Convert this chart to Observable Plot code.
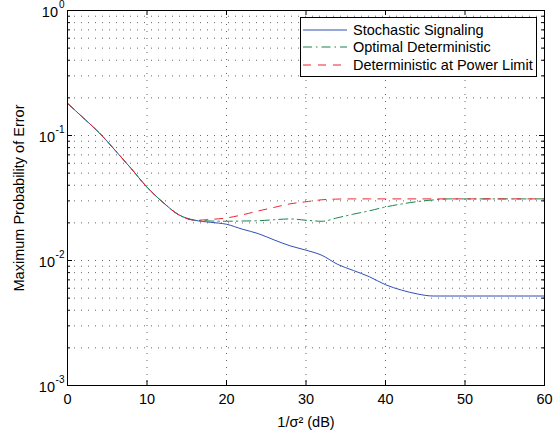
<!DOCTYPE html>
<html><head><meta charset="utf-8">
<script src="https://cdn.jsdelivr.net/npm/d3@7"></script>
<script src="https://cdn.jsdelivr.net/npm/@observablehq/plot@0.6"></script>
<style>
body{margin:0;background:#fff;}
#wrap{position:relative;width:560px;height:436px;font-family:"Liberation Sans",Arial,Helvetica,sans-serif;}
#legend{position:absolute;left:300px;top:17px;width:237px;height:60px;border:1px solid #000;background:#fff;box-sizing:border-box;font-size:14.5px;color:#000;padding-top:3px;}
.row{display:flex;align-items:center;height:17.5px;}
.row svg{margin-left:2px;margin-right:6px;}
</style>
</head><body>
<div id="wrap"><div id="chart"></div><div id="legend"></div></div>
<script>
const xVals      = [0, 2, 4, 6, 8, 10, 12, 14, 16, 18, 20, 22, 24, 26, 28, 30, 32, 34, 36, 38, 40, 42, 44, 46, 48, 50, 55, 60];
const stochastic = [0.181, 0.138, 0.105, 0.076, 0.0545, 0.0386, 0.0292, 0.0232, 0.0210, 0.0202, 0.0195, 0.0178, 0.0164, 0.0146, 0.0131, 0.0121, 0.0110, 0.0093, 0.0083, 0.0074, 0.0064, 0.0058, 0.0054, 0.0052, 0.0052, 0.0052, 0.0052, 0.0052];
const optimal    = [0.181, 0.138, 0.105, 0.076, 0.0545, 0.0386, 0.0292, 0.0232, 0.0210, 0.0207, 0.0206, 0.0207, 0.0208, 0.0212, 0.0215, 0.0210, 0.0206, 0.0220, 0.0235, 0.0250, 0.0268, 0.0283, 0.0296, 0.0305, 0.0311, 0.0311, 0.0311, 0.0311];
const powerLimit = [0.181, 0.138, 0.105, 0.076, 0.0545, 0.0386, 0.0292, 0.0232, 0.0210, 0.0213, 0.0219, 0.0232, 0.0249, 0.0266, 0.0284, 0.0295, 0.0306, 0.0310, 0.0311, 0.0311, 0.0311, 0.0311, 0.0311, 0.0311, 0.0311, 0.0311, 0.0311, 0.0311];
const seriesNames = ["Stochastic Signaling", "Optimal Deterministic", "Deterministic at Power Limit"];
const xTicks = [0, 10, 20, 30, 40, 50, 60];
const yMajor = [0.001, 0.01, 0.1, 1];
const yExp   = ["-3", "-2", "-1", "0"];
const yMinor = [2,3,4,5,6,7,8,9].flatMap(m => [0.001, 0.01, 0.1].map(d => m * d));
const xLabel = "1/σ² (dB)";
const yLabel = "Maximum Probability of Error";

const colors = ["#2f4fb5", "#17844a", "#ea2330"];
const dashes = [null, "9,4,1.5,4", "8,7"];

const rows = [];
[stochastic, optimal, powerLimit].forEach((arr, s) =>
  arr.forEach((v, i) => rows.push({x: xVals[i], y: v, s: seriesNames[s]})));

const W = 560, H = 436, mL = 67, mR = 16, mT = 10, mB = 51;
const iw = W - mL - mR, ih = H - mT - mB;
const FS = 14.5;
const gridStyle = {stroke: "#000", strokeOpacity: 0.6, strokeDasharray: "1,6"};

const chart = Plot.plot({
  width: W, height: H,
  marginLeft: mL, marginRight: mR, marginTop: mT, marginBottom: mB,
  style: {fontFamily: '"Liberation Sans", Arial, Helvetica, sans-serif', fontSize: "14px", background: "#fff", color: "#000"},
  x: {domain: [0, 60], axis: null},
  y: {type: "log", domain: [0.001, 1], axis: null},
  marks: [
    Plot.ruleX(xTicks.slice(1, -1), gridStyle),
    Plot.ruleY(yMajor.slice(1, -1).concat(yMinor), gridStyle),
    ...[0, 1, 2].map(s => Plot.line(rows, {
      filter: d => d.s === seriesNames[s], x: "x", y: "y", curve: "monotone-x",
      stroke: colors[s], strokeWidth: 1, strokeDasharray: dashes[s]
    })),
    Plot.frame({stroke: "#000", strokeWidth: 1}),
    Plot.ruleX(xTicks, {x: d => d, insetTop: ih - 5, stroke: "#000"}),
    Plot.ruleX(xTicks, {x: d => d, insetBottom: ih - 5, stroke: "#000"}),
    Plot.ruleY(yMajor, {y: d => d, insetRight: iw - 5, stroke: "#000"}),
    Plot.ruleY(yMajor, {y: d => d, insetLeft: iw - 5, stroke: "#000"}),
    Plot.ruleY(yMinor, {y: d => d, insetRight: iw - 3, stroke: "#000"}),
    Plot.ruleY(yMinor, {y: d => d, insetLeft: iw - 3, stroke: "#000"}),
    Plot.text(xTicks, {x: d => d, frameAnchor: "bottom", lineAnchor: "middle", dy: 14, text: d => String(d), fontSize: FS}),
    Plot.text([xLabel], {frameAnchor: "bottom", lineAnchor: "middle", textAnchor: "middle", dy: 37, text: d => d, fontSize: FS}),
    Plot.text([yLabel], {frameAnchor: "left", textAnchor: "middle", lineAnchor: "middle", dx: -48, rotate: -90, text: d => d, fontSize: FS}),
    Plot.text(yMajor, {filter: d => d !== 1, y: d => d, frameAnchor: "left", text: () => "10", textAnchor: "end", dx: -12.5, dy: 2, fontSize: FS}),
    Plot.text(yMajor, {filter: d => d === 1, y: d => d, frameAnchor: "left", text: () => "10", textAnchor: "end", dx: -9.5, dy: 2, fontSize: FS}),
    Plot.text(yMajor, {y: d => d, frameAnchor: "left", text: (d, i) => yExp[i], textAnchor: "end", dx: -3, dy: -6, fontSize: 10})
  ]
});
document.getElementById("chart").appendChild(chart);

const legend = document.getElementById("legend");
seriesNames.forEach((name, s) => {
  const row = document.createElement("div");
  row.className = "row";
  row.innerHTML = `<svg width="44" height="10"><line x1="0" x2="44" y1="5" y2="5" stroke="${colors[s]}" stroke-width="1" ${dashes[s] ? `stroke-dasharray="${dashes[s]}"` : ""}/></svg><span>${name}</span>`;
  legend.appendChild(row);
});
</script>
</body></html>
